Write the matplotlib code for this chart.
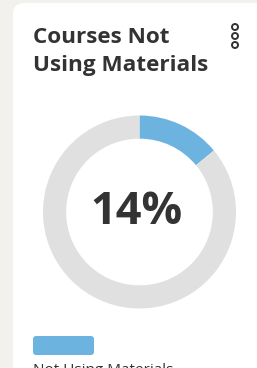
import matplotlib.pyplot as plt
from matplotlib.patches import FancyBboxPatch, Circle

# donut data
labels = ['Not Using Materials', 'Using Materials']
values = [14, 86]
colours = ['#6cb3e0', '#e0e0e0']
title_lines = ['Courses Not', 'Using Materials']
centre_label = '14%'

W, H = 257, 368
fig = plt.figure(figsize=(W / 100, H / 100), dpi=100)
fig.patch.set_facecolor('#f3f1ed')

# background axes in pixel coordinates
bg = fig.add_axes([0, 0, 1, 1])
bg.set_xlim(0, W)
bg.set_ylim(H, 0)
bg.axis('off')

card = FancyBboxPatch((13, 3), 300, 420, boxstyle='round,pad=0,rounding_size=11',
                      fc='white', ec='none')
bg.add_patch(card)

font = ['Open Sans', 'DejaVu Sans']
dark = '#333333'
for line, yy in zip(title_lines, [43, 71]):
    bg.text(33, yy, line, fontsize=16.2, fontweight='bold', color=dark,
            family=font, va='baseline')

# kebab menu
for yy in [27, 36, 45]:
    bg.add_patch(Circle((235, yy), 3, fc='none', ec=dark, lw=1.4))

# legend swatch + label
bg.add_patch(FancyBboxPatch((33, 336), 61, 19, boxstyle='round,pad=0,rounding_size=3',
                            fc=colours[0], ec='none'))
bg.text(33, 374, labels[0], fontsize=11, color=dark, family=font, va='baseline')

# donut
cx, cy, r = 139.5, 212, 96.5
ax = fig.add_axes([(cx - r) / W, (H - cy - r) / H, 2 * r / W, 2 * r / H])
ax.pie(values, colors=colours, startangle=90, counterclock=False,
       wedgeprops=dict(width=0.24, edgecolor='none'))
ax.set_xlim(-1, 1)
ax.set_ylim(-1, 1)
ax.set_aspect('equal')
ax.text(-0.03, -0.01, centre_label, fontsize=32.5, fontweight='bold', color=dark,
        family=font, ha='center', va='center')

fig.savefig('out.png', dpi=100, facecolor=fig.get_facecolor())
